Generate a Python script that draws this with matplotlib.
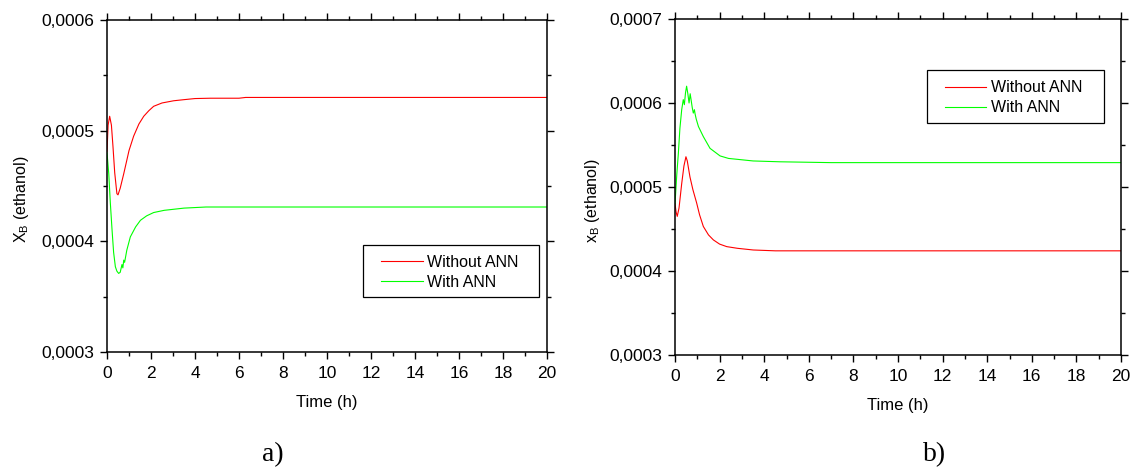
import numpy as np
from matplotlib import pyplot as plt
from matplotlib.patches import Rectangle
from matplotlib.ticker import MultipleLocator, FuncFormatter

# a) composition profile, open loop vs. ANN controlled
t_a_without = [0, 0.05, 0.12, 0.2, 0.27, 0.35, 0.45, 0.5, 0.6, 0.76, 1.0, 1.21, 1.45, 1.67,
               1.9, 2.12, 2.5, 3.03, 3.5, 4.0, 4.7, 6.0, 6.3, 8, 20]
x_a_without = [0.000481, 0.000505, 0.000513, 0.000505, 0.000486, 0.000462, 0.000443, 0.000442,
               0.000448, 0.000461, 0.000482, 0.000495, 0.000506, 0.000513, 0.000518, 0.000522,
               0.000525, 0.000527, 0.000528, 0.000529, 0.0005293, 0.0005293, 0.00053, 0.00053,
               0.00053]
t_a_with = [0, 0.08, 0.15, 0.23, 0.3, 0.38, 0.45, 0.53, 0.6, 0.68, 0.72, 0.76, 0.8, 0.9, 1.06,
            1.3, 1.52, 1.8, 2.12, 2.6, 3.5, 4.5, 6, 20]
x_a_with = [0.00048, 0.000461, 0.000435, 0.00041, 0.00039, 0.000377, 0.000373, 0.000371,
            0.000372, 0.000379, 0.000376, 0.000383, 0.000381, 0.000392, 0.000404, 0.000413,
            0.000419, 0.000423, 0.000426, 0.000428, 0.00043, 0.000431, 0.000431, 0.000431]

# b) second case
t_b_without = [0, 0.05, 0.1, 0.18, 0.3, 0.4, 0.49, 0.55, 0.67, 0.8, 0.97, 1.1, 1.27, 1.5, 1.72,
               2.0, 2.32, 2.8, 3.51, 4.5, 6, 20]
x_b_without = [0.00048, 0.00047, 0.000465, 0.000475, 0.000504, 0.000525, 0.000536, 0.000531,
               0.000512, 0.000497, 0.000481, 0.000467, 0.000453, 0.000443, 0.000437, 0.000432,
               0.000429, 0.000427, 0.000425, 0.000424, 0.000424, 0.000424]
t_b_with = [0, 0.08, 0.15, 0.22, 0.3, 0.37, 0.42, 0.47, 0.52, 0.57, 0.63, 0.68, 0.72, 0.77,
            0.82, 0.87, 0.9, 0.95, 1.05, 1.27, 1.57, 2.02, 2.4, 2.77, 3.5, 4.7, 7, 20]
x_b_with = [0.00048, 0.000515, 0.00054, 0.00057, 0.000592, 0.000604, 0.000598, 0.000612,
            0.00062, 0.000612, 0.0006, 0.000611, 0.000604, 0.000595, 0.000588, 0.000592,
            0.000587, 0.000581, 0.000572, 0.00056, 0.000546, 0.000537, 0.000534, 0.000533,
            0.000531, 0.00053, 0.000529, 0.000529]

x_ticks = np.arange(0, 21, 2)
labels = ['Without ANN', 'With ANN']


def pre_config():
    plt.rcParams.update({
        'font.family': 'Liberation Sans',
        'mathtext.fontset': 'custom',
        'mathtext.rm': 'Liberation Sans',
        'axes.linewidth': 1.1,
        'xtick.direction': 'out',
        'ytick.direction': 'out',
        'xtick.major.size': 5, 'ytick.major.size': 5,
        'xtick.minor.size': 3, 'ytick.minor.size': 3,
        'xtick.major.width': 1.0, 'ytick.major.width': 1.0,
        'xtick.minor.width': 1.0, 'ytick.minor.width': 1.0,
    })


def comma(v, pos):
    return f'{v:.4f}'.replace('.', ',')


def panel(ax, series, ylim, ylabel, label_x, legend_box, legend_anchor):
    for (t, x), color, lab in zip(series, ['#ff0000', '#00ff00'], labels):
        ax.plot(t, x, color=color, lw=0.8, label=lab)
    ax.set_xlim(0, 20)
    ax.set_ylim(*ylim)
    ax.set_xticks(x_ticks)
    ax.xaxis.set_minor_locator(MultipleLocator(1))
    ax.yaxis.set_major_locator(MultipleLocator(0.0001))
    ax.yaxis.set_minor_locator(MultipleLocator(0.00005))
    ax.yaxis.set_major_formatter(FuncFormatter(comma))
    ax.tick_params(which='both', top=True, right=True, labelsize=12.5)
    ax.tick_params(axis='x', pad=5)
    ax.tick_params(axis='y', pad=4)
    ax.set_xlabel('Time (h)', fontsize=12, labelpad=10.5)
    ax.set_ylabel(ylabel, fontsize=11.5)
    ax.yaxis.set_label_coords(label_x, 0.46)

    # legend frame is drawn separately so the side margins can be wider
    x0, y0, x1, y1 = legend_box
    ax.add_patch(Rectangle((x0, y0), x1 - x0, y1 - y0, transform=ax.transAxes,
                           facecolor='white', edgecolor='black', lw=0.9, zorder=4))
    leg = ax.legend(loc='upper left', bbox_to_anchor=legend_anchor, fontsize=11.5,
                    frameon=False, handlelength=2.6, handletextpad=0.3,
                    labelspacing=0.3, borderpad=0, borderaxespad=0)
    leg.set_zorder(5)


def main():
    pre_config()
    fig = plt.figure(figsize=(11.36, 4.70), dpi=100)
    ax_a = fig.add_axes([0.0942, 0.2511, 0.3873, 0.7064])
    ax_b = fig.add_axes([0.5942, 0.2447, 0.3926, 0.7149])

    panel(ax_a, [(t_a_without, x_a_without), (t_a_with, x_a_with)], (0.0003, 0.0006),
          r'$\mathregular{X_B}$ (ethanol)', -0.173,
          (0.582, 0.166, 0.982, 0.322), (0.623, 0.292))
    panel(ax_b, [(t_b_without, x_b_without), (t_b_with, x_b_with)], (0.0003, 0.0007),
          r'$\mathregular{x_B}$ (ethanol)', -0.164,
          (0.565, 0.690, 0.962, 0.848), (0.605, 0.817))

    fig.text(273 / 1136, 1 - 455 / 470, 'a)', family='Liberation Serif', fontsize=20,
             ha='center', va='center')
    fig.text(935 / 1136, 1 - 455 / 470, 'b)', family='Liberation Serif', fontsize=20,
             ha='center', va='center')

    fig.savefig('out.png', dpi=100)


if __name__ == '__main__':
    main()
